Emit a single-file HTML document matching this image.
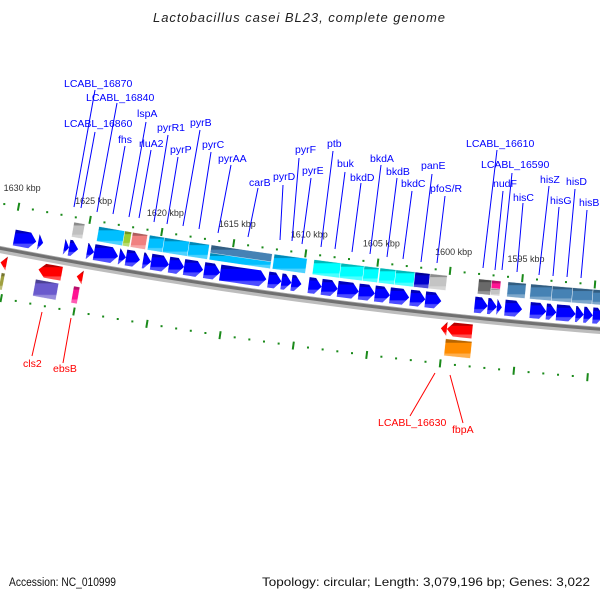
<!DOCTYPE html>
<html><head><meta charset="utf-8"><style>
html,body{margin:0;padding:0;background:#fff;}
svg{display:block;font-family:"Liberation Sans",sans-serif;}
</style></head><body>
<svg id="map" width="600" height="600" viewBox="0 0 600 600" xmlns="http://www.w3.org/2000/svg">
<defs id="defs"></defs>
<rect width="600" height="600" fill="#fff"/>
<text x="299" y="22" text-anchor="middle" font-size="13" font-style="italic" fill="#222" textLength="292">Lactobacillus casei BL23, complete genome</text>
<g id="ticks"></g>
<g id="backbone"></g>
<g id="features"></g>
<g id="labels"></g>
<text x="9" y="586" font-size="11.5" fill="#111" textLength="107" lengthAdjust="spacingAndGlyphs">Accession: NC_010999</text>
<text x="590" y="586" text-anchor="end" font-size="12" fill="#111" textLength="328" lengthAdjust="spacingAndGlyphs">Topology: circular; Length: 3,079,196 bp; Genes: 3,022</text>
</svg>
<script>
// ---- data (kbp) ----
const fwdStart=[1629.90,1628.23,1626.43,1626.09,1624.84,1624.35,1622.62,1622.14,1620.96,1620.40,1619.16,1618.12,1616.73,1615.62,1612.30,1611.39,1610.70,1609.52,1608.62,1607.51,1606.06,1604.95,1603.91,1602.52,1601.48,1598.09,1597.19,1596.56,1596.01,1594.28,1593.17,1592.48,1591.16,1590.60,1589.98,1589.22];
const fwdEnd=[1628.37,1627.89,1626.09,1625.46,1624.35,1622.69,1622.14,1621.17,1620.40,1619.16,1618.12,1616.80,1615.62,1612.43,1611.39,1610.70,1610.01,1608.62,1607.51,1606.06,1604.95,1603.91,1602.59,1601.48,1600.38,1597.19,1596.56,1596.22,1594.83,1593.17,1592.48,1591.16,1590.60,1589.98,1589.22,1588.40];
const boxStart=[1626.06,1624.32,1622.52,1621.97,1620.79,1619.75,1618.02,1616.50,1612.13,1609.37,1607.50,1605.90,1604.80,1603.70,1602.38,1601.34,1597.98,1597.08,1595.96,1594.39,1592.90,1591.50,1590.10];
const boxEnd=[1625.30,1622.52,1622.04,1620.93,1619.75,1618.02,1616.63,1612.27,1609.85,1607.50,1605.90,1604.87,1603.70,1602.38,1601.34,1600.16,1597.08,1596.45,1594.71,1592.90,1591.50,1590.10,1588.60];
const boxCat=['gray','sky','olive','coral','sky','sky','sky','steel','sky','cyan','cyan','cyan','cyan','cyan','blue','lgray','dgray','pink','steel','steel','steel','steel','steel'];
const subStart=[1616.50,1597.08];
const subEnd=[1612.27,1596.45];
const subCat=['sky','lgray'];
const revStart=[1630.50,1627.87,1625.23,1600.21,1599.80];
const revEnd=[1630.08,1626.27,1624.82,1599.80,1598.07];
const lowStart=[1630.30,1627.94,1625.31,1599.81];
const lowEnd=[1630.05,1626.35,1624.89,1598.01];
const lowCat=['olivedark','slate','pink','orange'];
const tickLabels=['1630 kbp','1625 kbp','1620 kbp','1615 kbp','1610 kbp','1605 kbp','1600 kbp','1595 kbp'];
const tickKbp=[1630,1625,1620,1615,1610,1605,1600,1595];

const colors={gray:'#c0c0c0',sky:'#00bfff',olive:'#9acd32',coral:'#f08080',steel:'#4682b4',cyan:'#00ffff',blue:'#0000cd',lgray:'#c4c4c4',dgray:'#696969',pink:'#ff1493',olivedark:'#a0a040',slate:'#6a5acd',orange:'#ff8c00',fwd:'#0000ff',rev:'#ff0000'};

// ---- geometry ----
const cx=1027.2, cy=-5100, r0=5443.8;
function P(k,r){const a=(99.99+(k-1625)*0.1543)*Math.PI/180;return [cx+r*Math.cos(a),cy+r*Math.sin(a)];}
const NS='http://www.w3.org/2000/svg';
function mk(tag,attrs,parent){const e=document.createElementNS(NS,tag);for(const k in attrs)e.setAttribute(k,attrs[k]);parent.appendChild(e);return e;}
function shade(hex,f){const n=parseInt(hex.slice(1),16);let r=n>>16,g=(n>>8)&255,b=n&255;
 if(f<1){r=Math.round(r*f);g=Math.round(g*f);b=Math.round(b*f);}else{const t=f-1;r=Math.round(r+(255-r)*t);g=Math.round(g+(255-g)*t);b=Math.round(b+(255-b)*t);}
 return 'rgb('+r+','+g+','+b+')';}
const defs=document.getElementById('defs');
const made={};
function grad(key){if(made[key])return 'url(#g-'+key+')';made[key]=1;const c=colors[key];
 const lg=mk('linearGradient',{id:'g-'+key,x1:0,y1:0,x2:0,y2:1},defs);
 mk('stop',{offset:0,'stop-color':shade(c,0.72)},lg);mk('stop',{offset:0.18,'stop-color':shade(c,0.72)},lg);
 mk('stop',{offset:0.22,'stop-color':c},lg);mk('stop',{offset:0.72,'stop-color':c},lg);
 mk('stop',{offset:0.78,'stop-color':shade(c,1.3)},lg);mk('stop',{offset:1,'stop-color':shade(c,1.3)},lg);
 return 'url(#g-'+key+')';}
function arcPts(k1,k2,r,n){const p=[];for(let i=0;i<=n;i++)p.push(P(k1+(k2-k1)*i/n,r));return p;}
function ptsStr(p){return p.map(q=>q[0].toFixed(2)+','+q[1].toFixed(2)).join(' ');}
function boxPoly(k1,k2,ri,ro){return arcPts(k1,k2,ri,6).concat(arcPts(k2,k1,ro,6));}

// ---- ticks ----
const tg=document.getElementById('ticks');
[r0-42,r0+51].forEach((R,ri)=>{
 for(let k=1560;k<=1640;k++){
  if(k%5===0){const a=P(k,R-4),b=P(k,R+4);
   const l=mk('line',{x1:a[0],y1:a[1],x2:b[0],y2:b[1],stroke:'#1a8a1a','stroke-width':2},tg);
   
   
  }else{const c=P(k,R);
   const d=mk('rect',{x:c[0]-1,y:c[1]-1,width:2,height:2,fill:'#1a8a1a'},tg);
   
   }
 }});
tickKbp.forEach((k,i)=>{const p=P(k,r0-42);
 const t=mk('text',{x:p[0]-15,y:p[1]-16,'font-size':9,fill:'#333'},tg);t.textContent=tickLabels[i];
 
 });

// ---- backbone ----
const bg=document.getElementById('backbone');
function arcPath(r){return 'M'+arcPts(1642,1578,r,60).map(q=>q[0].toFixed(2)+' '+q[1].toFixed(2)).join(' L');}
const b1=mk('path',{d:arcPath(r0+4.5),fill:'none',stroke:'#bdbdbd','stroke-width':5},bg);


const b2=mk('path',{d:arcPath(r0+2),fill:'none',stroke:'#707070','stroke-width':3.5},bg);


const b3=mk('path',{d:arcPath(r0+0.3),fill:'none',stroke:'#a8a8a8','stroke-width':0.8},bg);



// ---- features ----
const fg=document.getElementById('features');
const HEAD=0.45;
function arrow(k1,k2,ri,ro,forward,key,name){
 let pts;const rm=(ri+ro)/2;
 if(forward){const kh=(k1-k2>HEAD)?k2+HEAD:k1;
  pts=arcPts(k1,kh,ri,5).concat([P(k2,rm)]).concat(arcPts(kh,k1,ro,5));
 }else{const kh=(k1-k2>HEAD)?k1-HEAD:k2;
  pts=[P(k1,rm)].concat(arcPts(kh,k2,ri,5)).concat(arcPts(k2,kh,ro,5));}
 const e=mk('polygon',{points:ptsStr(pts),fill:grad(key)},fg);
 
 }
function box(k1,k2,ri,ro,key,name){
 const e=mk('polygon',{points:ptsStr(boxPoly(k1,k2,ri,ro)),fill:grad(key),stroke:'#fff','stroke-width':0.4},fg);
 
 }
fwdStart.forEach((s,i)=>arrow(s,fwdEnd[i],r0-19,r0-3,true,'fwd','forward-gene'));
boxStart.forEach((s,i)=>box(s,boxEnd[i],r0-37,r0-22,boxCat[i],'forward-feature-box'));
subStart.forEach((s,i)=>box(s,subEnd[i],r0-29,r0-22,subCat[i],'forward-subfeature-box'));
revStart.forEach((s,i)=>arrow(s,revEnd[i],r0+9,r0+23,false,'rev','reverse-gene'));
lowStart.forEach((s,i)=>box(s,lowEnd[i],r0+26,r0+43,lowCat[i],'reverse-feature-box'));

// ---- labels ----
const lg=document.getElementById('labels');
const blueLabels=[
['LCABL_16870',64,87,95,90,74,207],['LCABL_16840',86,101,117,103,97,212],['LCABL_16860',64,127,95,132,81,208],
['fhs',118,143,125,146,113,214],['lspA',137,117,146,122,129,217],['rluA2',139,147,151,150,139,218],
['pyrR1',157,131,168,135,154,222],['pyrP',170,153,178,157,167,224],['pyrB',190,126,200,130,183,226],
['pyrC',202,148,211,152,199,229],['pyrAA',218,162,231,165,218,233],['carB',249,186,258,188,248,237],
['pyrD',273,180,283,185,280,240],['pyrF',295,153,299,158,292,241],['pyrE',302,174,311,178,302,244],
['ptb',327,147,333,151,321,247],['buk',337,167,345,172,335,249],['bkdD',350,181,361,183,352,252],
['bkdA',370,162,381,165,370,254],['bkdB',386,175,397,178,387,257],['bkdC',401,187,412,191,403,259],
['panE',421,169,432,174,421,262],['pfoS/R',430,192,445,196,437,263],['LCABL_16610',466,147,497,150,483,268],
['LCABL_16590',481,168,512,173,502,270],['nudF',493,187,503,191,495,270],['hisC',513,201,523,203,517,272],
['hisZ',540,183,549,186,539,275],['hisG',550,204,559,207,553,276],['hisD',566,185,575,189,567,277],
['hisB',579,206,587,210,581,278]];
const redLabels=[['cls2',23,367,42,312,32,356],['ebsB',53,372,71,318,63,363],
['LCABL_16630',378,426,435,373,410,416],['fbpA',452,433,450,375,463,423]];
function addLabel(L,col){
 const ln=mk('line',{x1:L[3],y1:L[4],x2:L[5],y2:L[6],stroke:col,'stroke-width':1},lg);
 
 
 const t=mk('text',{x:L[1],y:L[2],'font-size':10.5,fill:col},lg);t.textContent=L[0];
 
 }
blueLabels.forEach(L=>addLabel(L,'#0000ff'));
redLabels.forEach(L=>addLabel(L,'#ff0000'));
</script>
</body></html>
